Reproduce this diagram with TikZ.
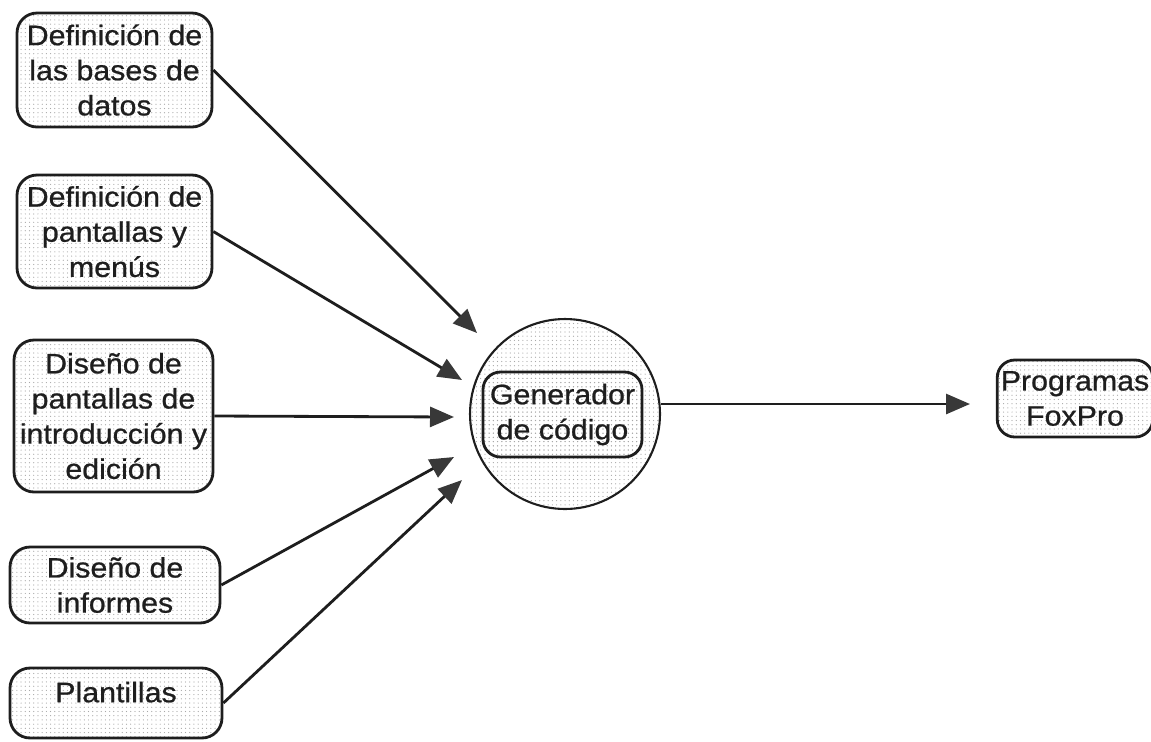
\documentclass[tikz,border=0pt]{standalone}
\usepackage{fontspec}
\setmainfont{Liberation Sans}[FakeStretch=1.08,FakeBold=0.8]
\usetikzlibrary{arrows.meta,patterns.meta}
\definecolor{inkGray}{HTML}{1E1E1E}
\definecolor{dotGray}{HTML}{A8A8A8}
\definecolor{headGray}{HTML}{383838}

\begin{document}
\begin{tikzpicture}[
  x=0.02cm,y=-0.02cm,
  >={Triangle[length=0.48cm,width=0.4cm,color=headGray]},
  box/.style={draw=inkGray,line width=1.6pt,rounded corners=0.4cm,
    pattern={Dots[distance=2.4pt,radius=0.35pt]},pattern color=dotGray,
    align=center,text=inkGray,inner sep=2pt,
    font=\fontsize{16}{20}\selectfont},
  gencirc/.style={draw=inkGray,line width=1.2pt,circle,minimum size=3.8cm,
    pattern={Dots[distance=2.4pt,radius=0.35pt]},pattern color=dotGray},
  arr/.style={->,line width=1.6pt,draw=inkGray}
]
  \useasboundingbox (0,0) rectangle (1151,741);

  \node[box,minimum width=3.9cm,minimum height=2.28cm] (basesdatos) at (114.5,70) {Definición de\\las bases de\\datos};
  \node[box,minimum width=3.9cm,minimum height=2.26cm] (pantallas) at (114.5,231.5) {Definición de\\pantallas y\\menús};
  \node[box,minimum width=3.98cm,minimum height=3.04cm] (introd) at (113.5,416) {Diseño de\\pantallas de\\introducción y\\edición};
  \node[box,minimum width=4.2cm,minimum height=1.52cm] (informes) at (115,585) {Diseño de\\informes};
  \node[box,minimum width=4.24cm,minimum height=1.4cm,text depth=0.44cm] (plantillas) at (116,703) {Plantillas};

  \node[gencirc] (gen) at (565,414) {};
  \node[box,minimum width=3.18cm,minimum height=1.7cm,rounded corners=0.35cm] (genbox) at (562.5,414.5) {Generador\\de código};

  \node[box,minimum width=3cm,minimum height=1.54cm,rounded corners=0.35cm] (foxpro) at (1075,398.5) {Programas\\FoxPro};

  % puntas de flecha
  \coordinate (tip1) at (477,333);
  \coordinate (tip2) at (462,380);
  \coordinate (tip3) at (454,417);
  \coordinate (tip4) at (454,457);
  \coordinate (tip5) at (462,480);
  \coordinate (tipout) at (970,404);

  \draw[arr] (basesdatos.east) -- (tip1);
  \draw[arr] (pantallas.east) -- (tip2);
  \draw[arr] (introd.east) -- (tip3);
  \draw[arr] (informes.east) -- (tip4);
  \draw[arr] (plantillas.east) -- (tip5);
  \draw[arr] (gen.east |- tipout) -- (tipout);
\end{tikzpicture}
\end{document}
